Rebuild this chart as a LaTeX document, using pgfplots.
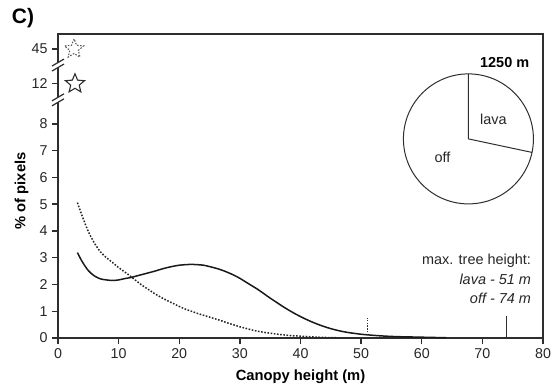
\documentclass[border=0pt]{standalone}
\usepackage{pgfplots}
\pgfplotsset{compat=1.18}
\usetikzlibrary{calc}
\usepackage{fontspec}
\setmainfont{Liberation Sans}
\definecolor{axc}{HTML}{2E2E2E}
\pgfdeclareplotmark{ostar}{%
  \pgfpathmoveto{\pgfpointpolar{90}{\pgfplotmarksize}}%
  \pgfpathlineto{\pgfpointpolar{126}{0.45\pgfplotmarksize}}%
  \pgfpathlineto{\pgfpointpolar{162}{\pgfplotmarksize}}%
  \pgfpathlineto{\pgfpointpolar{198}{0.45\pgfplotmarksize}}%
  \pgfpathlineto{\pgfpointpolar{234}{\pgfplotmarksize}}%
  \pgfpathlineto{\pgfpointpolar{270}{0.45\pgfplotmarksize}}%
  \pgfpathlineto{\pgfpointpolar{306}{\pgfplotmarksize}}%
  \pgfpathlineto{\pgfpointpolar{342}{0.45\pgfplotmarksize}}%
  \pgfpathlineto{\pgfpointpolar{18}{\pgfplotmarksize}}%
  \pgfpathlineto{\pgfpointpolar{54}{0.45\pgfplotmarksize}}%
  \pgfpathclose\pgfusepathqstroke}
\tikzset{dotline/.style={dash pattern=on 1.6bp off 1.6bp}}
\begin{document}
\begin{tikzpicture}
\begin{axis}[
  scale only axis, width=485bp, height=304bp,
  xmin=0, xmax=80, ymin=0, ymax=11.36,
  xtick={0,10,...,80},
  ytick={0,1,2,3,4,5,6,7,8,9.5,10.8},
  yticklabels={0,1,2,3,4,5,6,7,8,12,45},
  xtick pos=bottom, ytick pos=left,
  tick align=outside, major tick length=6bp,
  tick style={draw=axc, line width=1.4bp},
  axis line style={draw=axc, line width=2bp},
  /pgf/number format/assume math mode=true,
  ticklabel style={font=\fontsize{14.3}{16}\selectfont, text=black!85},
  xticklabel style={yshift=-1bp},
  yticklabel style={xshift=-1bp},
  xlabel={\textbf{Canopy height (m)}},
  xlabel style={font=\fontsize{14.8}{17}\selectfont, at={(axis description cs:0.5,0)}, anchor=center, yshift=-39bp},
  ylabel={\textbf{\% of pixels}},
  ylabel style={font=\fontsize{14.8}{17}\selectfont, at={(axis description cs:-0.075,0.484)}, anchor=center},
  clip=false,
]
% off (solid)
\addplot[black!90, line width=1.5bp, smooth] coordinates {
(3.2,3.19)(4,2.85)(5,2.52)(6,2.32)(7,2.21)(8,2.17)(9,2.15)(10,2.17)(11,2.22)(12,2.26)
(13,2.32)(14,2.38)(15,2.44)(16,2.5)(17,2.57)(18,2.63)(19,2.68)(20,2.72)(21,2.74)(22,2.75)
(23,2.74)(24,2.72)(25,2.67)(26,2.61)(27,2.54)(28,2.45)(29,2.35)(30,2.23)(31,2.09)(32,1.95)
(33,1.81)(34,1.65)(35,1.49)(36,1.34)(37,1.19)(38,1.05)(39,0.92)(40,0.80)(41,0.69)(42,0.59)
(43,0.50)(44,0.42)(45,0.35)(46,0.29)(47,0.24)(48,0.20)(49,0.17)(50,0.14)(52,0.10)(54,0.07)
(56,0.05)(58,0.04)(60,0.03)(62,0.02)(64,0.01)};
% lava (dotted)
\addplot[black!85, line width=1.5bp, dotline, smooth] coordinates {
(3.2,5.06)(4,4.55)(5,3.98)(6,3.55)(7,3.22)(8,3.0)(9,2.82)(10,2.63)(11,2.47)(12,2.3)
(13,2.12)(14,1.95)(15,1.8)(16,1.65)(17,1.52)(18,1.40)(19,1.29)(20,1.18)(21,1.08)(22,1.00)
(23,0.92)(24,0.85)(25,0.78)(26,0.71)(27,0.64)(28,0.56)(29,0.49)(30,0.42)(31,0.36)(32,0.30)
(33,0.25)(34,0.21)(35,0.18)(36,0.15)(37,0.12)(38,0.10)(39,0.08)(40,0.07)(42,0.04)(44,0.02)(46,0.01)};
% max tree heights
\addplot[black!80, line width=1.1bp, dash pattern=on 1.4bp off 1.4bp] coordinates {(51,0)(51,0.74)};
\addplot[axc, line width=1.2bp] coordinates {(74,0)(74,0.82)};
% stars (out-of-range values)
\addplot[only marks, mark=ostar, mark size=10bp, mark options={draw=axc, line width=1.1bp, solid}] coordinates {(2.8,9.5)};
\addplot[only marks, mark=ostar, mark size=10bp, mark options={draw=black!65, line width=1.1bp, dash pattern=on 1.5bp off 1.5bp}] coordinates {(2.65,10.8)};
% texts
\node[anchor=east, font=\fontsize{14.5}{16}\selectfont\bfseries] at (axis cs:78.3,10.28) {1250 m};
\node[anchor=east, font=\fontsize{14.5}{16}\selectfont, text=black!85] at (axis cs:78.6,2.87) {max. tree height:};
\node[anchor=east, font=\fontsize{14.5}{16}\selectfont\itshape, text=black!85] at (axis cs:78.6,2.19) {lava - 51 m};
\node[anchor=east, font=\fontsize{14.5}{16}\selectfont\itshape, text=black!85] at (axis cs:78.6,1.49) {off - 74 m};
% anchors
\coordinate (pc) at (axis cs:67.7,7.44);
\coordinate (b1) at (axis cs:0,8.9);
\coordinate (b2) at (axis cs:0,10.2);
\coordinate (tl) at (rel axis cs:0,1);
\end{axis}
% pie: lava 28 %, off 72 %
\draw[axc, line width=1bp] (pc) circle[radius=65bp];
\draw[axc, line width=1bp] ([yshift=65bp]pc) -- (pc) -- ($(pc)+(-12:65bp)$);
\node[font=\fontsize{14.5}{16}\selectfont, text=black!85] at ([xshift=25bp,yshift=20bp]pc) {lava};
\node[font=\fontsize{14.5}{16}\selectfont, text=black!85] at ([xshift=-26bp,yshift=-18bp]pc) {off};
% axis breaks
\foreach \b in {b1,b2}{
  \fill[white] ([xshift=-6bp,yshift=-6bp]\b) -- ([xshift=6bp,yshift=1bp]\b) -- ([xshift=6bp,yshift=6bp]\b) -- ([xshift=-6bp,yshift=-1bp]\b) -- cycle;
  \draw[axc, line width=1.2bp] ([xshift=-6bp,yshift=-6bp]\b) -- ([xshift=6bp,yshift=1bp]\b);
  \draw[axc, line width=1.2bp] ([xshift=-6bp,yshift=-1bp]\b) -- ([xshift=6bp,yshift=6bp]\b);
}
\node[font=\fontsize{21}{24}\selectfont\bfseries] at ([xshift=-35bp,yshift=16bp]tl) {C)};
\pgfresetboundingbox
\path ([xshift=-58bp,yshift=-354bp]tl) rectangle ([xshift=496bp,yshift=34bp]tl);
\end{tikzpicture}
\end{document}
